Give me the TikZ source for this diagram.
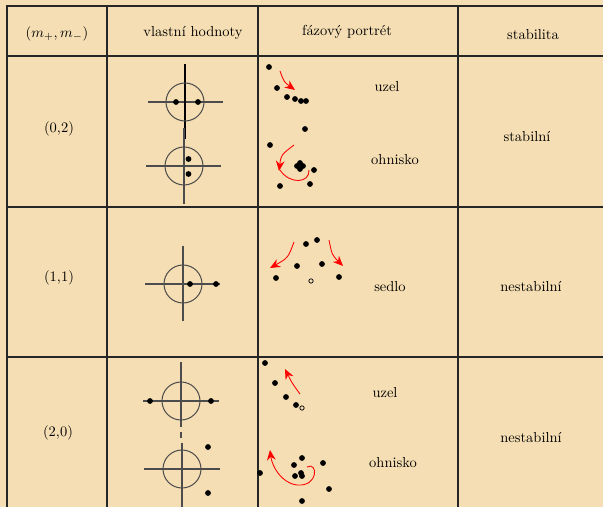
\documentclass[tikz,border=0pt]{standalone}
\usepackage{tikz}
\usetikzlibrary{arrows.meta}

\definecolor{paper}{RGB}{245,222,179}

\tikzset{
  rule/.style={draw=black!85,line width=0.7pt},
  axis/.style={draw=black!70,line width=0.7pt},
  flow/.style={draw=red,line width=0.6pt,-{Stealth[length=7pt,width=6pt]}},
  flowline/.style={draw=red,line width=0.6pt},
  hole/.style={draw=black,fill=paper,line width=0.5pt}
}

\begin{document}
\begin{tikzpicture}[x=0.69pt,y=-0.69pt]
        \fill [paper] (0,0) rectangle (603,507);
        \useasboundingbox (0,0) rectangle (603,507);

        % table
        \draw [rule] (7,507) -- (7,6) -- (603,6);
        \draw [rule] (7,56) -- (603,56);
        \draw [rule] (7,207) -- (603,207);
        \draw [rule] (7,357) -- (603,357);
        \draw [rule] (107,6) -- (107,507);
        \draw [rule] (258,6) -- (258,507);
        \draw [rule] (458,6) -- (458,507);

        \node (hm) at (57,34) {$(m_+,m_-)$};
        \node (hv) at (193,33) {vlastní hodnoty};
        \node (hf) at (347,32) {fázový portrét};
        \node (hs) at (533,35) {stabilita};

        \node (m02) at (59,129) {(0,2)};
        \node (m11) at (59,278) {(1,1)};
        \node (m20) at (58,433) {(2,0)};

        \node (s02) at (527,137) {stabilní};
        \node (s11) at (531,287) {nestabilní};
        \node (s20) at (531,438) {nestabilní};

        % vlastni hodnoty (0,2)
        \draw [axis] (148,102) -- (223,102);
        \draw [draw=black,line width=0.7pt] (185,64) -- (185,139);
        \draw [axis] (185,102) circle (19);
        \draw [axis] (146,166) -- (221,166);
        \draw [axis] (184,128) -- (184,204);
        \draw [axis] (184,166) circle (19);
        \foreach \x/\y in {176/102,198/102,188.5/159,188.5/174}
          \fill (\x,\y) circle (2.9);

        % vlastni hodnoty (1,1)
        \draw [axis] (145,284) -- (220,284);
        \draw [axis] (183,246) -- (183,321);
        \draw [axis] (183,284) circle (19);
        \foreach \x/\y in {190/284,216/284}
          \fill (\x,\y) circle (2.9);

        % vlastni hodnoty (2,0)
        \draw [axis] (143,401) -- (219,401);
        \draw [axis] (181,362) -- (181,427);
        \draw [axis] (181,432) -- (181,438);
        \draw [axis] (181,401) circle (19);
        \draw [axis] (144,469) -- (220,469);
        \draw [axis] (182,443) -- (182,507);
        \draw [axis] (182,469) circle (19);
        \foreach \x/\y in {150/401,211/401,208/447,208/493}
          \fill (\x,\y) circle (2.9);

        % fazovy portret (0,2)
        \foreach \x/\y in {269/67,277/88,287/97,295/99,301/101,306/101,305/129}
          \fill (\x,\y) circle (2.9);
        \draw [flow] (280,71) .. controls (284,82) .. (295,90);
        \node (uz1) at (387,87) {uzel};
        \foreach \x/\y in {270/145,297/166,300/163,303/166,300/169,314/170,280/186,310/184}
          \fill (\x,\y) circle (2.9);
        \draw [flow] (294,145) .. controls (281,155) .. (279,171);
        \draw [flowline] (280,170) .. controls (290,185) and (310,183) .. (309,170);
        \node (oh1) at (395,160) {ohnisko};

        % fazovy portret (1,1)
        \foreach \x/\y in {306/244,317/240,297/266,322/264,276/278,339/277}
          \fill (\x,\y) circle (2.9);
        \draw [hole] (311,281) circle (2.2);
        \draw [flow] (294,242) .. controls (288,258) .. (270,268);
        \draw [flow] (329,240) .. controls (332,255) .. (343,266);
        \node (sd) at (390,287) {sedlo};

        % fazovy portret (2,0)
        \foreach \x/\y in {265/363,275/383,286/397,296/405}
          \fill (\x,\y) circle (2.9);
        \draw [hole] (302,408) circle (2.2);
        \draw [flow] (300,394) .. controls (292,383) .. (285,369);
        \node (uz2) at (385,393) {uzel};
        \foreach \x/\y in {260/473,302/458,294/465,295/476,302/476,301/473,323/463,329/489,302/501}
          \fill (\x,\y) circle (2.9);
        \draw [flow] (307,467) .. controls (318,461) and (319,487) .. (297,485)
          .. controls (281,483) and (272,466) .. (270,450);
        \node (oh2) at (393,463) {ohnisko};
\end{tikzpicture}
\end{document}
